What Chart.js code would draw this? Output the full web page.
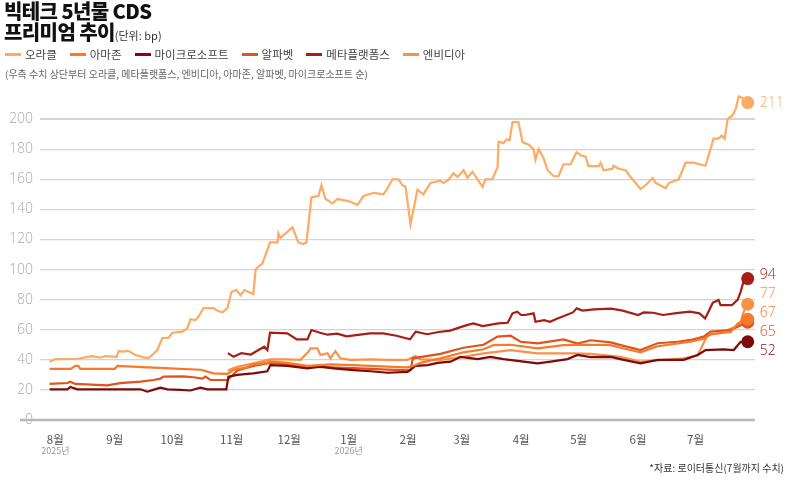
<!DOCTYPE html>
<html>
<head>
<meta charset="utf-8">
<script src="https://cdn.jsdelivr.net/npm/chart.js@4"></script>
<style>
  body { margin: 0; background: #fff; font-family: "Noto Sans CJK KR", sans-serif; }
  #wrap { position: relative; width: 788px; height: 480px; overflow: hidden; }
  #chart { position: absolute; left: 0; top: 0; }
  .title { position: absolute; left: 4px; top: 0px; font-size: 20px; font-weight: 900; line-height: 21px; color: #111; letter-spacing: -0.6px; }
  .title span { font-size: 11px; font-weight: 400; color: #333; letter-spacing: 0; }
  #legend { position: absolute; left: 5px; top: 46px; display: flex; gap: 13px; font-size: 11.5px; color: #444; }
  #legend div { display: flex; align-items: center; }
  #legend i { display: inline-block; width: 16px; height: 3px; margin-right: 4px; }
  .note { position: absolute; left: 5px; top: 66px; font-size: 10px; color: #666; }
  .source { position: absolute; right: 4px; top: 460px; font-size: 10px; color: #333; }
</style>
</head>
<body>
<div id="wrap">
  <canvas id="chart" width="788" height="480"></canvas>
  <div class="title">빅테크 5년물 CDS<br>프리미엄 추이<span>(단위: bp)</span></div>
  <div id="legend"></div>
  <div class="note">(우측 수치 상단부터 오라클, 메타플랫폼스, 엔비디아, 아마존, 알파벳, 마이크로소프트 순)</div>
  <div class="source">*자료: 로이터통신(7월까지 수치)</div>
</div>
<script>
// days counted from 2025-08-01, values in bp
const seriesNames = ["오라클", "아마존", "마이크로소프트", "알파벳", "메타플랫폼스", "엔비디아"];
const seriesColors = ["#fdaa63", "#f67a2a", "#7c0b0b", "#e0531b", "#a51f14", "#fb9048"];

const monthDays = [0, 31, 61, 92, 122, 153, 184, 212, 243, 273, 304, 334];
const monthLabels = ["8월", "9월", "10월", "11월", "12월", "1월", "2월", "3월", "4월", "5월", "6월", "7월"];
const yearLabels = [[0, "2025년"], [153, "2026년"]];

const oracle = [[-3,38.7],[0,40.5],[12,40.7],[16.7,42],[19.3,42.5],[23.5,41.4],[26,42.5],[32,42],[33,45.8],[35.5,45.4],[38,46],[41.8,43.2],[46,41.6],[48.5,41.2],[50.6,43.2],[53.2,46.5],[55.8,54.5],[59,54.5],[61,58],[66.3,58.7],[68.9,61],[70.5,67],[73,66.4],[74.6,68.4],[77.2,74.4],[82.5,74.4],[84.6,72.6],[87.2,71.6],[89.8,74.4],[91.9,85.2],[94.5,86.4],[96.6,83],[98.6,86.4],[103.3,83.7],[104.5,100],[106,102],[108,104],[112,118],[115.9,118],[116.4,124],[117.4,121],[123.7,128],[126.8,118],[129.4,117],[131,118],[133.6,148],[137.3,149],[138.8,156],[140.9,147],[144.6,144],[147.2,147],[152.9,145.5],[157.6,143],[160.8,149],[166,151],[171.2,150],[173.3,154],[175.9,160],[179,160],[181.1,156],[182.7,155],[185.3,130],[188.9,153],[192,150],[195.7,157.5],[200.9,159],[202.5,157.5],[205.1,159.5],[207.7,164],[209.8,161.5],[213,166],[215,161],[217.6,165],[222.9,155],[224.4,160],[228,160],[230.7,168],[231.2,185],[233.8,184],[235.4,186.5],[237,186],[238.5,198],[241.6,198],[243.7,184.7],[246.9,183],[249.5,180],[250.5,173],[252.1,180],[254.7,174],[256.8,166],[260,162],[262.5,162],[265.1,170],[268.8,170],[271.9,178],[274,176],[276.6,175],[278.2,168.7],[283.4,168.7],[284.4,171],[286,166],[290.7,167],[291.2,169],[293.8,167],[297.5,166],[300.1,161.5],[305.3,153.5],[307.9,156],[311.6,160.8],[313.2,157.5],[318.4,154],[320,157.5],[325.2,160],[328.8,171],[333,171],[339.2,169],[340.8,176],[343.4,187],[346,187],[347.6,189],[349.2,187],[350.7,200],[353.3,202.6],[354.9,206.6],[356.5,215],[358.6,214],[361.2,211]];

const amazon = [[-3,34],[6,34],[8,34],[10.5,36],[12,36],[13,34],[31,34],[32.4,36],[48,35],[54.8,34.6],[65,34],[76,33.4],[82.5,31],[89.8,30.6],[93,33.4],[100,35],[103,37],[110.6,38],[112,39],[121,38],[131.5,36],[143.5,37],[155.5,36.5],[164.4,36],[173.3,35.5],[183.7,35],[188,36.5],[190.5,38],[200.9,41],[212.9,45],[223.4,47],[228.6,49.8],[237.5,50],[251.6,47.6],[265.1,49.8],[279.2,50],[289.7,49.8],[294.9,48],[305.3,45],[314.2,49],[331.4,52],[338.2,54],[341.9,57],[352.3,58.5],[356,64],[359.1,66],[361.2,67]];

const microsoft = [[-3,20.4],[6.3,20.4],[7.8,22],[11.5,20.4],[44.4,20.4],[48,18.8],[51,20],[54.8,21.5],[58.5,20.4],[65.2,20],[70.5,19.6],[75.7,21.5],[79.3,20.4],[89.2,20.4],[90.3,28.8],[95,30],[100.2,30.6],[103.3,31],[110.6,32.4],[112.2,36.5],[121.1,36],[131.5,34.3],[138.3,35.5],[145.1,34.3],[155.5,33.2],[164.4,32.4],[173.3,31.4],[183.7,32],[187.9,36],[194.2,36.5],[199.4,38],[206.2,38.8],[211.4,42],[220.3,40.5],[227,42],[233.8,40.5],[244.3,38.8],[251.6,37.6],[258.4,38.8],[267.2,40.5],[272.4,43.2],[279.2,41.8],[289.7,42],[296.5,40],[305.3,37.6],[314.2,40],[327.8,40],[335.1,43.2],[339.2,46.5],[348.6,47],[353.9,46.5],[357.5,52],[361.2,52]];

const alphabet = [[-3,24],[6.3,24.6],[7.8,25.5],[10.4,24],[27.1,23],[33.9,24.5],[44.4,25.5],[51.1,26.6],[54.8,27.5],[56.4,28.8],[66.8,29],[72,28.4],[76.7,27.5],[78.3,28.8],[80.9,26.6],[89.8,26.6],[95,33],[103.3,36],[112.2,38],[121.1,37],[131.5,35.5],[143.5,35],[155.5,34.5],[164.4,34],[173.3,33.5],[185.3,33],[186.5,41],[200.9,44],[212.9,48],[223.4,50],[230.7,55.4],[237.5,56],[242.7,52],[251.6,51],[265.1,53.6],[272.4,50.8],[279.2,53],[289.7,51.6],[294.9,49.8],[305.3,46.5],[314.2,51],[324.6,52],[331.4,53.2],[338.2,55.4],[341.9,58.7],[352.3,59.8],[356,62],[359.1,64],[361.2,65]];

const meta = [[90,44.5],[93,42],[97,44.5],[102,43.5],[106,46.5],[109,48.7],[110.6,46.5],[112,58],[121,57.6],[126,53.6],[131.5,53.6],[133.6,59.8],[138,58],[142,56.7],[147,57.4],[152,55.6],[159,56.7],[164,57.6],[171,57.6],[178,56],[185,53.6],[188,58.7],[194,57],[200,58.5],[206,59.4],[213,62.4],[218,64.2],[223,62.4],[231,64.2],[236,64.6],[238.5,70.9],[241,72],[243,69.8],[245,69.8],[249.5,70.9],[250.5,65.3],[255,66.4],[258,65.3],[262,67.5],[270,71.5],[272,74.2],[275,72.7],[281,73.5],[290,74],[296,72.7],[304,69.8],[307,71.5],[312,71.3],[317,69.8],[324,71],[331,72],[336,70.9],[339,67.5],[343,78],[346,79.7],[347,76.4],[353,76.4],[356,80],[357.5,85.2],[359,92],[361.2,94]];

const nvidia = [[90,33],[95,35.4],[103.3,37.6],[112.2,40.3],[121.1,40.3],[127.9,40],[132,45.4],[133.1,47.6],[136.7,47.6],[138.3,43.2],[142,44.4],[143.5,41],[146.1,45.8],[148.7,41],[154,40],[164.4,40.3],[173.3,40],[183.7,40],[187.9,42.5],[190.5,40.3],[200.9,40],[212.9,42],[223.4,44.3],[237.5,46.5],[251.6,44.3],[270.4,44.3],[279.2,44],[294.9,42],[305.3,38.8],[327.8,41],[335.1,43],[336.6,47],[340.3,56.5],[347.1,58],[354.9,62],[357.5,65],[359.1,72],[361.2,77]];

const seriesData = [oracle, amazon, microsoft, alphabet, meta, nvidia];

// html legend
document.getElementById("legend").innerHTML = seriesNames
  .map((n, i) => `<div><i style="background:${seriesColors[i]}"></i>${n}</div>`)
  .join("");

// zero baseline, year labels, end value labels
const extrasPlugin = {
  id: "extras",
  beforeDatasetsDraw(chart) {
    const { ctx, chartArea, scales } = chart;
    const y0 = scales.y.getPixelForValue(0);
    ctx.save();
    ctx.strokeStyle = "#b8b8b8";
    ctx.lineWidth = 2.5;
    ctx.beginPath();
    ctx.moveTo(chartArea.left - 20, y0);
    ctx.lineTo(chartArea.right, y0);
    ctx.stroke();
    ctx.fillStyle = "#999";
    ctx.font = "9px 'Noto Sans CJK KR'";
    ctx.textAlign = "center";
    ctx.textBaseline = "top";
    yearLabels.forEach(([d, t]) => {
      ctx.fillText(t, scales.x.getPixelForValue(d), chartArea.bottom + 26);
    });
    ctx.restore();
  },
  afterDatasetsDraw(chart) {
    const { ctx } = chart;
    const labels = chart.data.datasets.map((ds, i) => {
      const pts = chart.getDatasetMeta(i).data;
      const last = pts[pts.length - 1];
      return { x: last.x + 12, y: last.y, text: String(Math.round(ds.data[ds.data.length - 1].y)), color: ds.borderColor };
    });
    labels.sort((a, b) => a.y - b.y);
    const gap = 19;
    for (let k = 0; k < 60; k++) {
      for (let j = 1; j < labels.length; j++) {
        const d = labels[j].y - labels[j - 1].y;
        if (d < gap) {
          const push = (gap - d) / 2;
          labels[j].y += push;
          labels[j - 1].y -= push;
        }
      }
    }
    ctx.save();
    ctx.font = "300 14px 'Open Sans'";
    ctx.textAlign = "left";
    ctx.textBaseline = "middle";
    labels.forEach(l => {
      ctx.fillStyle = l.color;
      ctx.fillText(l.text, l.x, l.y);
    });
    ctx.restore();
  }
};

new Chart(document.getElementById("chart").getContext("2d"), {
  type: "line",
  data: {
    datasets: seriesNames.map((name, i) => ({
      label: name,
      data: seriesData[i].map(([x, y]) => ({ x, y })),
      borderColor: seriesColors[i],
      backgroundColor: seriesColors[i],
      borderWidth: 2.2,
      tension: 0,
      pointRadius: ctx => (ctx.dataIndex === seriesData[i].length - 1 ? 6.5 : 0),
      pointHoverRadius: 0,
      pointBorderWidth: 0,
    })),
  },
  options: {
    responsive: false,
    animation: false,
    layout: { padding: { top: 89, right: 33, left: 0, bottom: 0 } },
    plugins: { legend: { display: false }, tooltip: { enabled: false } },
    scales: {
      x: {
        type: "linear",
        min: -8,
        max: 365,
        grid: { display: false },
        border: { display: false },
        afterBuildTicks: scale => { scale.ticks = monthDays.map(v => ({ value: v })); },
        afterFit: scale => { scale.height = 60; },
        ticks: {
          padding: 5,
          color: "#555",
          font: { family: "Noto Sans CJK KR", size: 11.5 },
          maxRotation: 0,
          autoSkip: false,
          callback: v => monthLabels[monthDays.indexOf(v)],
        },
      },
      y: {
        min: 0,
        max: 220,
        afterBuildTicks: scale => { scale.ticks = scale.ticks.filter(t => t.value <= 200); },
        afterFit: scale => { scale.width = 40; },
        border: { display: false },
        grid: {
          color: "#d4d4d4",
          drawTicks: false,
          lineWidth: c => (c.tick.value === 0 ? 0 : c.tick.value === 200 ? 2 : 1.2),
        },
        ticks: {
          stepSize: 20,
          padding: 7,
          color: "#aaa",
          font: { family: "Open Sans", size: 14, weight: "300" },
        },
      },
    },
  },
  plugins: [extrasPlugin],
});
</script>
</body>
</html>
